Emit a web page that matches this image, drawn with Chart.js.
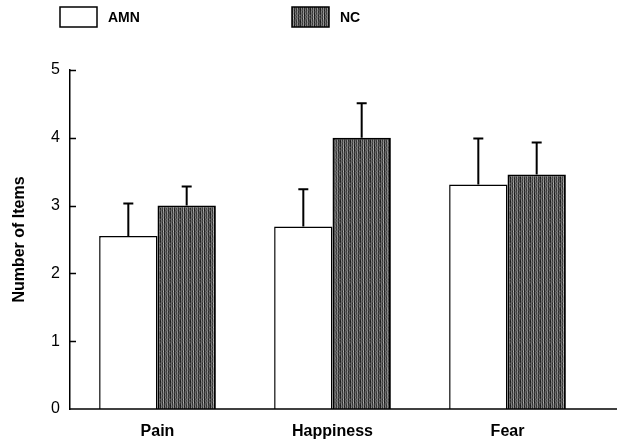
<!DOCTYPE html>
<html>
<head>
<meta charset="utf-8">
<script src="https://cdn.jsdelivr.net/npm/chart.js@4/dist/chart.umd.min.js"></script>
<style>
  html, body { margin: 0; padding: 0; background: #fff; }
  #wrap { width: 617px; height: 441px; }
</style>
</head>
<body>
<div id="wrap"><canvas id="chart" width="617" height="441"></canvas></div>
<script>
const categories = ["Pain", "Happiness", "Fear"];
const amnValues = [2.55, 2.69, 3.31];
const amnUpper = [3.03, 3.24, 3.99];
const ncValues = [3.0, 4.0, 3.46];
const ncUpper = [3.28, 4.51, 3.93];
const yTicks = [0, 1, 2, 3, 4, 5];

// stippled grey texture for the NC bars (vertical streaks)
function makeTexture() {
    const cols = [45, 120, 60, 150, 40, 105, 70, 135, 50, 95];
    const rowShift = [0, 25, -10, 35, 5, -15, 30, -5, 15, -20, 20, 10];
    const c = document.createElement("canvas");
    c.width = cols.length; c.height = rowShift.length;
    const g = c.getContext("2d");
    for (let y = 0; y < rowShift.length; y++) {
        for (let x = 0; x < cols.length; x++) {
            let v = cols[x] + ((x + y) % 3 === 0 ? rowShift[y] : -rowShift[y] / 2);
            v = Math.max(25, Math.min(190, Math.round(v)));
            g.fillStyle = `rgb(${v},${v},${v})`;
            g.fillRect(x, y, 1, 1);
        }
    }
    return g.createPattern(c, "repeat");
}
const ctx = document.getElementById("chart").getContext("2d");
const texture = makeTexture();

const uppers = [amnUpper, ncUpper];

const errorBars = {
    id: "errorBars",
    afterDatasetsDraw(chart) {
        const g = chart.ctx;
        const y = chart.scales.y;
        g.save();
        g.strokeStyle = "#000";
        g.lineWidth = 2;
        chart.data.datasets.forEach((ds, i) => {
            const meta = chart.getDatasetMeta(i);
            meta.data.forEach((bar, j) => {
                const top = y.getPixelForValue(uppers[i][j]);
                g.beginPath();
                g.moveTo(bar.x, bar.y);
                g.lineTo(bar.x, top);
                g.moveTo(bar.x - 5, top);
                g.lineTo(bar.x + 5, top);
                g.stroke();
            });
        });
        g.restore();
    }
};

const axesLook = {
    id: "axesLook",
    afterDraw(chart) {
        const g = chart.ctx;
        const a = chart.chartArea;
        const y = chart.scales.y;
        g.save();
        g.strokeStyle = "#000";
        g.lineWidth = 1.5;
        // inward y ticks
        yTicks.forEach(v => {
            if (v === 0) return;
            const p = Math.round(y.getPixelForValue(v)) + 0.5;
            g.beginPath();
            g.moveTo(a.left, p);
            g.lineTo(a.left + 6, p);
            g.stroke();
        });
        // baseline runs to the right edge
        g.beginPath();
        g.moveTo(a.left, a.bottom);
        g.lineTo(chart.width, a.bottom);
        g.stroke();
        // legend
        const items = chart.data.datasets;
        const xs = [60, 292];
        g.font = "bold 14px 'Liberation Sans', Arial, sans-serif";
        g.textBaseline = "middle";
        items.forEach((ds, i) => {
            g.fillStyle = ds.backgroundColor;
            g.fillRect(xs[i], 7, 37, 20);
            g.lineWidth = 1.5;
            g.strokeRect(xs[i], 7, 37, 20);
            g.fillStyle = "#000";
            g.fillText(ds.label, xs[i] + 48, 18);
        });
        g.restore();
    }
};

new Chart(ctx, {
    type: "bar",
    data: {
        labels: categories,
        datasets: [
            { label: "AMN", data: amnValues, backgroundColor: "#fff", borderColor: "#000", borderWidth: 1.5 },
            { label: "NC", data: ncValues, backgroundColor: texture, borderColor: "#000", borderWidth: 2 }
        ]
    },
    options: {
        responsive: false,
        animation: false,
        layout: { padding: { top: 70, right: 22, left: 0, bottom: 0 } },
        datasets: { bar: { categoryPercentage: 0.667, barPercentage: 1.0 } },
        plugins: { legend: { display: false }, tooltip: { enabled: false } },
        scales: {
            x: {
                grid: { display: false, drawTicks: false },
                border: { display: false },
                ticks: {
                    color: "#000",
                    padding: 13,
                    font: { family: "'Liberation Sans', Arial, sans-serif", size: 16, weight: "bold" }
                },
                afterFit(s) { s.height = 32; }
            },
            y: {
                min: 0, max: 5,
                afterBuildTicks(s) { s.ticks = yTicks.map(v => ({ value: v })); },
                grid: { display: false, drawTicks: false },
                border: { display: true, color: "#000", width: 1.5 },
                ticks: {
                    color: "#000",
                    padding: 10,
                    font: { family: "'Liberation Sans', Arial, sans-serif", size: 16 }
                },
                title: {
                    display: true,
                    text: "Number of Items",
                    color: "#000",
                    padding: { top: 10, bottom: 10 },
                    font: { family: "'Liberation Sans', Arial, sans-serif", size: 16, weight: "bold" }
                },
                afterFit(s) { s.width = 70; }
            }
        }
    },
    plugins: [errorBars, axesLook]
});
</script>
</body>
</html>
